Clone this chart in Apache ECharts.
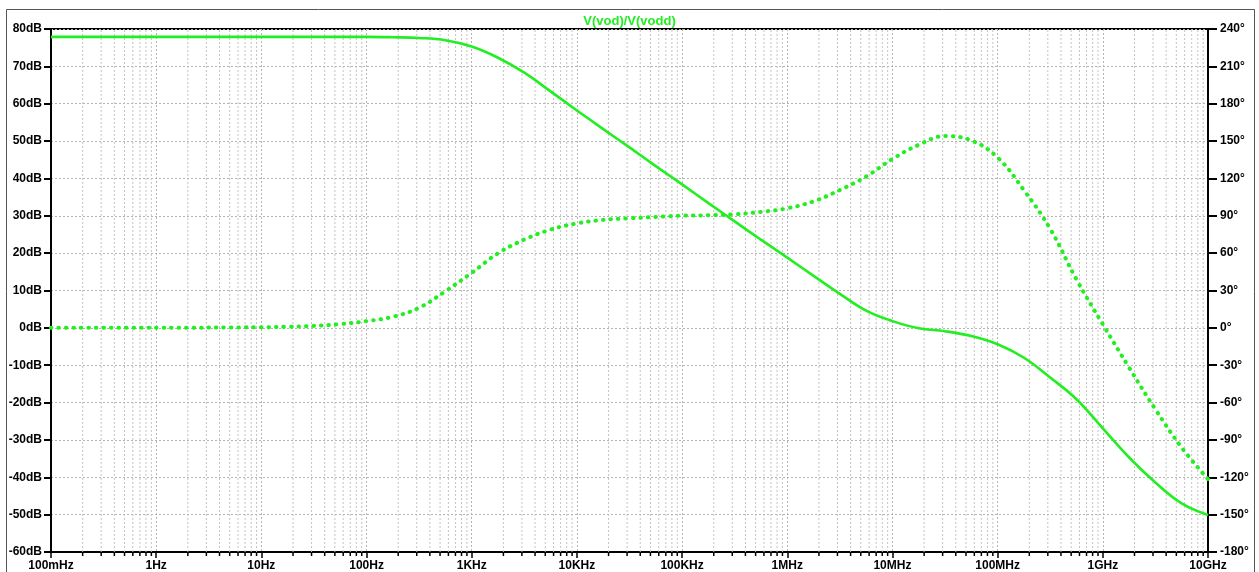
<!DOCTYPE html>
<html>
<head>
<meta charset="utf-8">
<title>V(vod)/V(vodd)</title>
<script src="https://cdn.jsdelivr.net/npm/echarts@6/dist/echarts.min.js"></script>
<style>
  html, body { margin: 0; padding: 0; background: #fff; }
  #chart { width: 1259px; height: 572px; }
</style>
</head>
<body>
<div id="chart"></div>
<script>
// Bode plot of V(vod)/V(vodd): magnitude (solid, dB) and phase (dotted, degrees)

const traceName = 'V(vod)/V(vodd)';

// Frequency axis decade labels, 100mHz .. 10GHz
const freqTickLabels = ['100mHz', '1Hz', '10Hz', '100Hz', '1KHz', '10KHz', '100KHz',
  '1MHz', '10MHz', '100MHz', '1GHz', '10GHz'];

// Sample frequencies (Hz), quarter-decade steps from 10Hz
const freqHz = [0.1, 1, 10, 17.8, 31.6, 56.2,
  100, 178, 316, 562, 1e3, 1.78e3, 3.16e3, 5.62e3,
  1e4, 1.78e4, 3.16e4, 5.62e4, 1e5, 1.78e5, 3.16e5, 5.62e5,
  1e6, 1.78e6, 3.16e6, 5.62e6, 1e7, 1.78e7, 3.16e7, 5.62e7,
  1e8, 1.78e8, 3.16e8, 5.62e8, 1e9, 1.78e9, 3.16e9, 5.62e9, 1e10];

// Magnitude (dB)
const magDb = [77.9, 77.9, 77.9, 77.9, 77.9, 77.9,
  77.9, 77.8, 77.6, 77.0, 75.3, 72.3, 68.3, 63.3,
  58.2, 53.2, 48.3, 43.3, 38.4, 33.4, 28.5, 23.6,
  18.8, 13.9, 9.1, 4.6, 1.8, -0.1, -0.9, -2.2,
  -4.4, -8.0, -13.3, -19.1, -26.9, -34.7, -41.4, -47.0, -50.1];

// Phase (degrees)
const phaseDeg = [0, 0.05, 0.5, 0.9, 1.6, 3.0,
  5.4, 8.9, 16.1, 29.4, 44.2, 59.9, 70.9, 78.9,
  83.9, 86.7, 88.0, 89.1, 90.1, 90.4, 91.2, 93.1,
  96.0, 101.6, 110.7, 121.5, 135.6, 147.0, 154.0, 150.5,
  136.8, 110.5, 79.5, 38.8, 2.8, -32.0, -65.4, -96.1, -121.5];

// Minor log-grid positions (2..9 within every decade)
const minorMultipliers = [2, 3, 4, 5, 6, 7, 8, 9];
const minorFreqs = [];
for (let d = -1; d < 10; d++) {
  minorMultipliers.forEach(m => minorFreqs.push([m * Math.pow(10, d), -60]));
}

const green = '#22ee22';
const labelFont = { fontFamily: 'Liberation Sans, Arial, sans-serif', fontWeight: 'bold', fontSize: 12, color: '#000' };
const gridDash = { color: '#b4b4b4', width: 1, type: [2, 2] };

const chart = echarts.init(document.getElementById('chart'), null, { renderer: 'canvas' });

chart.setOption({
  animation: false,
  backgroundColor: '#fff',
  title: {
    text: traceName,
    left: 'center',
    top: 10,
    textStyle: { color: green, fontFamily: 'Liberation Sans, Arial, sans-serif', fontWeight: 'bold', fontSize: 13 }
  },
  graphic: [{
    type: 'rect',
    shape: { x: 6.5, y: 9.5, width: 1248, height: 572 },
    style: { fill: 'none', stroke: '#555', lineWidth: 1 },
    silent: true,
    z: -1
  }],
  grid: {
    left: 51, right: 51, top: 29, bottom: 19,
    show: true, borderColor: '#000', borderWidth: 2, backgroundColor: 'transparent'
  },
  xAxis: {
    type: 'log',
    logBase: 10,
    min: 0.1,
    max: 1e10,
    interval: 1,
    axisLine: { show: true, onZero: false, lineStyle: { color: '#000', width: 2 } },
    axisTick: { show: true, length: 6, lineStyle: { color: '#000', width: 1.5 } },
    minorTick: { show: false },
    axisLabel: Object.assign({
      margin: 8,
      interval: 0,
      formatter: v => freqTickLabels[Math.round(Math.log10(v)) + 1]
    }, labelFont),
    splitLine: { show: true, lineStyle: gridDash }
  },
  yAxis: [{
    type: 'value',
    min: -60, max: 80, interval: 10,
    position: 'left',
    axisLine: { show: true, onZero: false, lineStyle: { color: '#000', width: 2 } },
    axisTick: { show: true, length: 7, lineStyle: { color: '#000', width: 2 } },
    axisLabel: Object.assign({ margin: 9, formatter: v => v + 'dB' }, labelFont),
    splitLine: { show: true, lineStyle: gridDash }
  }, {
    type: 'value',
    min: -180, max: 240, interval: 30,
    position: 'right',
    axisLine: { show: true, onZero: false, lineStyle: { color: '#000', width: 2 } },
    axisTick: { show: true, length: 9, lineStyle: { color: '#000', width: 2 } },
    axisLabel: Object.assign({ margin: 12, formatter: v => v + '°' }, labelFont),
    splitLine: { show: false }
  }],
  series: [{
    // minor vertical grid lines plus their short ticks under the frequency axis
    type: 'custom',
    xAxisIndex: 0,
    yAxisIndex: 0,
    silent: true,
    clip: false,
    z: 1,
    data: minorFreqs,
    renderItem: (params, api) => {
      const f = api.value(0);
      const bottom = api.coord([f, -60]);
      const top = api.coord([f, 80]);
      return {
        type: 'group',
        children: [{
          type: 'line',
          shape: { x1: bottom[0], y1: bottom[1], x2: top[0], y2: top[1] },
          style: { stroke: '#c4c4c4', lineWidth: 1, lineDash: [2, 2] }
        }, {
          type: 'line',
          shape: { x1: bottom[0], y1: bottom[1], x2: bottom[0], y2: bottom[1] + 4 },
          style: { stroke: '#000', lineWidth: 1.5 }
        }]
      };
    }
  }, {
    name: 'magnitude',
    type: 'line',
    yAxisIndex: 0,
    data: freqHz.map((f, i) => [f, magDb[i]]),
    smooth: 0.4,
    showSymbol: false,
    symbol: 'none',
    z: 5,
    lineStyle: { color: green, width: 2.6 }
  }, {
    name: 'phase',
    type: 'line',
    yAxisIndex: 1,
    data: freqHz.map((f, i) => [f, phaseDeg[i]]),
    smooth: 0.4,
    showSymbol: false,
    symbol: 'none',
    z: 5,
    lineStyle: { color: green, width: 4, type: [0.5, 7], cap: 'round' }
  }]
});
</script>
</body>
</html>
